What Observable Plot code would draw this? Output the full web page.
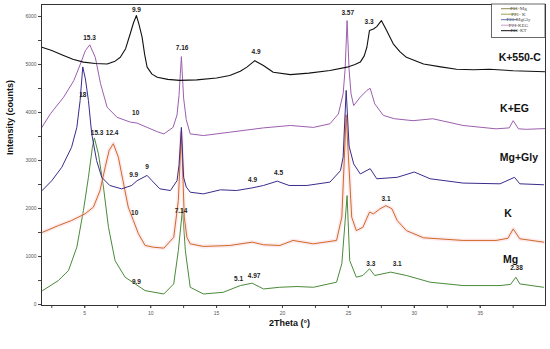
<!DOCTYPE html>
<html>
<head>
<meta charset="utf-8">
<script src="https://cdn.jsdelivr.net/npm/d3@7"></script>
<script src="https://cdn.jsdelivr.net/npm/@observablehq/plot@0.6"></script>
<style>
  html, body { margin: 0; padding: 0; background: #fff; }
  #chart { position: relative; width: 550px; height: 349px; }
</style>
</head>
<body>
<div id="chart"></div>
<script>
// ---- Data ----
const k550X = [1.75, 2.5, 3.3, 4.1, 4.9, 5.8, 6.7, 7.3, 7.7, 8.1, 8.45, 8.7, 8.92, 9.1, 9.35, 9.55, 9.73, 10.1, 10.5, 11.3, 12.2, 13.5, 15.0, 16.0, 16.8, 17.3, 17.9, 18.55, 19.3, 20.6, 22.0, 23.6, 24.9, 25.5, 25.9, 26.2, 26.4, 26.6, 26.9, 27.15, 27.5, 27.9, 28.4, 28.9, 29.4, 30.7, 32.0, 33.2, 34.5, 35.7, 37.5, 38.7, 39.9];
const k550Y = [5360, 5290, 5200, 5110, 5050, 5020, 5010, 5070, 5150, 5330, 5640, 5870, 6020, 5850, 5570, 5200, 4945, 4800, 4735, 4690, 4670, 4680, 4720, 4770, 4860, 4945, 5080, 4980, 4840, 4790, 4820, 4875, 4945, 5000, 5050, 5180, 5360, 5710, 5740, 5790, 5915, 5710, 5430, 5270, 5150, 5010, 4950, 4900, 4890, 4900, 4870, 4860, 4850];

const kegX = [1.75, 2.4, 3.4, 4.17, 4.67, 5.05, 5.38, 5.8, 6.2, 6.7, 7.45, 8.46, 8.97, 9.73, 10.5, 11.0, 11.7, 12.0, 12.15, 12.33, 12.5, 12.7, 13.0, 14.0, 16.0, 18.56, 20.6, 22.35, 23.6, 24.24, 24.6, 24.75, 24.9, 25.05, 25.2, 25.4, 25.9, 26.4, 26.65, 27.0, 27.65, 28.5, 29.9, 31.4, 33.7, 36.2, 37.2, 37.5, 37.9, 38.5, 39.9];
const kegY = [3690, 3975, 4320, 4665, 5010, 5290, 5410, 5150, 4600, 4110, 3900, 3800, 3780, 3690, 3600, 3555, 3690, 3950, 4350, 5165, 4300, 3850, 3555, 3520, 3590, 3680, 3730, 3690, 3765, 3970, 4390, 4900, 5915, 4900, 4390, 4145, 4320, 4460, 4505, 4180, 3940, 3870, 3830, 3870, 3730, 3660, 3680, 3830, 3660, 3650, 3665];

const mgGlyX = [1.77, 2.5, 3.26, 4.0, 4.4, 4.65, 4.85, 5.05, 5.28, 5.53, 5.9, 6.29, 6.9, 7.8, 8.56, 8.97, 9.73, 10.1, 10.7, 11.5, 12.0, 12.15, 12.33, 12.5, 12.7, 13.0, 14.0, 15.3, 16.5, 17.7, 18.56, 19.6, 20.5, 21.85, 23.6, 24.4, 24.6, 24.83, 25.05, 25.4, 25.9, 26.65, 27.15, 28.7, 30.0, 31.2, 33.7, 36.5, 37.6, 38.0, 39.8];
const mgGlyY = [2375, 2580, 2860, 3275, 3690, 4250, 4950, 4700, 4250, 3555, 3000, 2650, 2480, 2410, 2480, 2580, 2690, 2580, 2410, 2375, 2580, 2900, 3690, 2650, 2450, 2340, 2305, 2390, 2375, 2430, 2480, 2570, 2480, 2480, 2550, 2790, 3070, 4460, 3300, 2930, 2720, 2830, 2620, 2650, 2760, 2620, 2530, 2515, 2650, 2515, 2495];

const kX = [1.8, 3.0, 4.0, 5.03, 5.66, 6.16, 6.55, 6.85, 7.17, 7.55, 7.9, 8.3, 8.69, 9.07, 9.58, 10.2, 11.0, 11.75, 12.1, 12.33, 12.55, 12.75, 13.0, 14.0, 16.0, 17.7, 18.56, 19.8, 20.8, 22.35, 24.1, 24.5, 24.83, 25.25, 25.6, 26.1, 26.6, 26.9, 27.4, 27.85, 28.3, 28.7, 29.4, 30.7, 33.7, 36.2, 37.1, 37.5, 38.0, 39.8];
const kY = [1505, 1645, 1750, 1890, 2030, 2375, 2860, 3210, 3350, 3070, 2580, 2030, 1750, 1475, 1230, 1195, 1175, 1400, 2165, 3600, 1820, 1400, 1265, 1210, 1230, 1300, 1245, 1230, 1335, 1265, 1335, 1820, 3950, 1820, 1540, 1610, 1925, 1890, 1995, 2060, 1995, 1750, 1540, 1390, 1335, 1335, 1380, 1575, 1370, 1300];

const mgX = [1.8, 3.0, 3.77, 4.4, 4.9, 5.28, 5.58, 5.73, 6.04, 6.42, 6.8, 7.3, 8.06, 8.82, 9.58, 11.0, 11.75, 12.1, 12.42, 12.63, 13.0, 14.0, 15.5, 16.8, 17.7, 18.56, 19.8, 21.1, 22.35, 24.1, 24.5, 24.9, 25.1, 25.6, 26.1, 26.6, 27.0, 28.2, 29.4, 31.2, 33.7, 36.5, 37.3, 37.7, 38.0, 39.8];
const mgY = [290, 500, 710, 1195, 1960, 2650, 3275, 3470, 3140, 2445, 1610, 915, 570, 430, 290, 220, 430, 1125, 2000, 1125, 360, 220, 255, 395, 445, 325, 360, 375, 360, 465, 850, 2270, 915, 570, 605, 745, 605, 675, 605, 465, 395, 395, 420, 570, 430, 360];

// peak annotations (d-spacings)
const peakText = ["9.9", "15.3", "7.16", "4.9", "3.57", "3.3", "10", "18", "15.3", "12.4", "9.9", "9", "4.9", "4.5", "10", "7.14", "3.1", "9.9", "5.1", "4.97", "3.3", "3.1", "2.38"];
const peakX    = [8.92, 5.36, 12.38, 18.0, 24.95, 26.57, 8.86, 4.85, 5.94, 7.08, 8.71, 9.73, 17.73, 19.7, 8.79, 12.3, 27.85, 8.92, 16.67, 17.85, 26.7, 28.7, 37.75];
const peakY    = [6145, 5555, 5340, 5255, 6070, 5880, 3985, 4370, 3570, 3575, 2690, 2875, 2595, 2735, 1910, 1960, 2200, 480, 535, 600, 845, 845, 765];

// series names
const seriesNames = ["K+550-C", "K+EG", "Mg+Gly", "K", "Mg"];
const nameX = [38.0, 37.6, 37.93, 37.1, 37.3];
const nameY = [5140, 4075, 3055, 1900, 940];

const legendNames = ["F21-Mg", "F21- K", "F21-MgGly", "F21-KEG", "F21-KT"];
const legendColors = ["#8e8c52", "#9fa34a", "#5a78b8", "#c8a0c8", "#111111"];

const xTicks = [2.5, 5, 7.5, 10, 12.5, 15, 17.5, 20, 22.5, 25, 27.5, 30, 32.5, 35, 37.5];
const xLabels = [5, 10, 15, 20, 25, 30, 35];
const yTicks = [0, 500, 1000, 1500, 2000, 2500, 3000, 3500, 4000, 4500, 5000, 5500, 6000];
const yLabels = [0, 1000, 2000, 3000, 4000, 5000, 6000];

const colors = {k550: "#111111", keg: "#9b5fae", mgGly: "#3a2c8c", k: "#cf6a28", mg: "#4a8a3a"};

const zip = (xs, ys) => xs.map((x, i) => ({x, y: ys[i]}));
const font = "Liberation Sans, Arial, sans-serif";
const blank = () => "";

const chart = Plot.plot({
  width: 550,
  height: 349,
  marginLeft: 41,
  marginRight: 5,
  marginTop: 4,
  marginBottom: 44,
  style: {fontFamily: font, background: "#fff"},
  x: {domain: [1.72, 39.95]},
  y: {domain: [-20, 6250]},
  marks: [
    Plot.axisX({ticks: xTicks, tickSize: 3, tickFormat: blank, stroke: "#444", label: null}),
    Plot.axisX({ticks: xLabels, tickSize: 3, tickPadding: 3, fontSize: 5, fill: "#555", stroke: "#444", label: null, tickFormat: d => String(d)}),
    Plot.axisY({ticks: yTicks, tickSize: 3, tickFormat: blank, stroke: "#444", label: null}),
    Plot.axisY({ticks: yLabels, tickSize: 3, tickPadding: 2, fontSize: 5, fill: "#555", stroke: "#444", label: null, tickFormat: d => String(d)}),
    Plot.line(zip(mgX, mgY), {x: "x", y: "y", stroke: colors.mg, strokeWidth: 1}),
    Plot.line(zip(kX, kY), {x: "x", y: "y", stroke: "#f5c4cf", strokeWidth: 4, strokeOpacity: 0.35}),
    Plot.line(zip(kX, kY), {x: "x", y: "y", stroke: colors.k, strokeWidth: 1}),
    Plot.line(zip(mgGlyX, mgGlyY), {x: "x", y: "y", stroke: colors.mgGly, strokeWidth: 1}),
    Plot.line(zip(kegX, kegY), {x: "x", y: "y", stroke: colors.keg, strokeWidth: 1}),
    Plot.line(zip(k550X, k550Y), {x: "x", y: "y", stroke: colors.k550, strokeWidth: 1.1}),
    Plot.text(peakText.map((t, i) => ({t, x: peakX[i], y: peakY[i]})), {x: "x", y: "y", text: "t", fontSize: 6.5, fontWeight: "bold", fill: "#222"}),
    Plot.text(seriesNames.map((t, i) => ({t, x: nameX[i], y: nameY[i]})), {x: "x", y: "y", text: "t", fontSize: 10.5, fontWeight: "bold", fill: "#111"}),
    Plot.text(["2Theta (°)"], {text: d => d, frameAnchor: "bottom", dy: 20, dx: -4, fontSize: 9, fontWeight: "bold", fill: "#111"}),
    Plot.text(["Intensity (counts)"], {text: d => d, frameAnchor: "left", dx: -31, rotate: -90, fontSize: 9, fontWeight: "bold", fill: "#111"}),
    Plot.frame({stroke: "#333", strokeWidth: 1})
  ]
});

document.getElementById("chart").appendChild(chart);

// legend box inside the top-right corner
const svg = d3.select(chart);
const lg = svg.append("g").attr("font-family", "Liberation Serif, Times New Roman, serif");
lg.append("rect").attr("x", 491.5).attr("y", 4).attr("width", 53.5).attr("height", 33.5)
  .attr("fill", "#fff").attr("stroke", "#444").attr("stroke-width", 0.8);
legendNames.forEach((name, i) => {
  const yy = 8.7 + i * 5.5;
  lg.append("line").attr("x1", 501).attr("x2", 517).attr("y1", yy).attr("y2", yy)
    .attr("stroke", legendColors[i]).attr("stroke-width", 1);
  lg.append("text").attr("x", 518.5).attr("y", yy).attr("dy", "0.35em")
    .attr("font-size", 5).attr("fill", "#444").text(name);
});
</script>
</body>
</html>
